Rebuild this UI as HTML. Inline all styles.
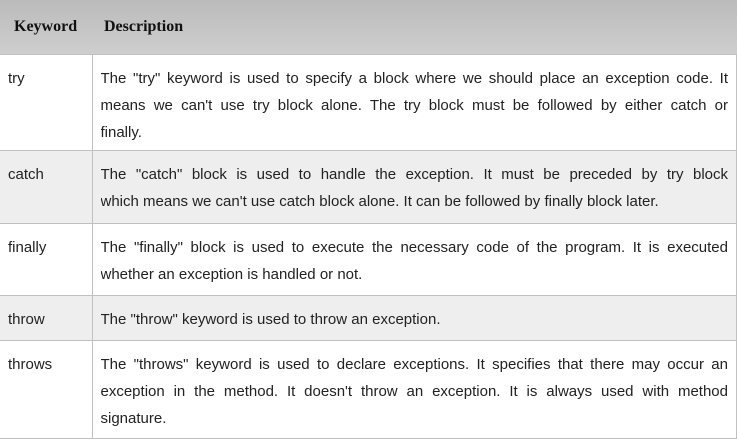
<!DOCTYPE html>
<html><head><style>
body{margin:0;background:#fff;width:737px;height:441px;overflow:hidden}
table{position:absolute;left:0;top:0;width:737px;border-collapse:collapse;font-family:"Liberation Sans",sans-serif;font-size:15px;color:#222}
th{background:linear-gradient(#bbb,#cecece);font-family:"Liberation Serif",serif;font-size:16px;font-weight:bold;text-align:left;height:54px;padding:0 0 0 14px;color:#111;border:none}
td{border:1px solid #c0c0c0;vertical-align:top;padding:10px 8px 0 8px;line-height:27px;box-sizing:border-box}
td:first-child{width:92px;text-align:left;border-left:none}
td div{white-space:nowrap;text-align:justify;text-align-last:justify;overflow:hidden}
td div.l{text-align-last:left}
tr.g td{background:#eee}
</style></head><body>
<table>
<tr><th style="width:78px">Keyword</th><th style="padding-left:12px">Description</th></tr>
<tr style="height:96px"><td>try</td><td><div style="white-space:normal">The "try" keyword is used to specify a block where we should place an exception code. It</div><div style="white-space:normal">means we can't use try block alone. The try block must be followed by either catch or</div><div class="l">finally.</div></td></tr>
<tr class="g" style="height:73px"><td>catch</td><td><div style="white-space:normal">The "catch" block is used to handle the exception. It must be preceded by try block</div><div class="l">which means we can't use catch block alone. It can be followed by finally block later.</div></td></tr>
<tr style="height:72px"><td>finally</td><td><div style="white-space:normal">The "finally" block is used to execute the necessary code of the program. It is executed</div><div class="l">whether an exception is handled or not.</div></td></tr>
<tr class="g" style="height:45px"><td>throw</td><td><div class="l">The "throw" keyword is used to throw an exception.</div></td></tr>
<tr style="height:98px"><td>throws</td><td><div style="white-space:normal">The "throws" keyword is used to declare exceptions. It specifies that there may occur an</div><div style="white-space:normal">exception in the method. It doesn't throw an exception. It is always used with method</div><div class="l">signature.</div></td></tr>
</table>
</body></html>
